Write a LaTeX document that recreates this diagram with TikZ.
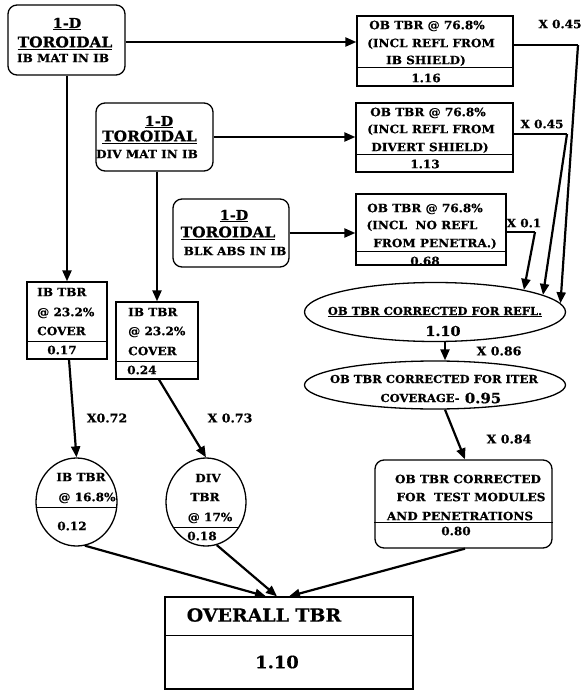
\documentclass[tikz,border=0pt]{standalone}
\usepackage{fontspec}
\newfontfamily\bk[FakeStretch=1.05,FakeBold=0.6]{DejaVu Serif}
\usetikzlibrary{arrows.meta,shapes.geometric}
\begin{document}
\begin{tikzpicture}[x=1pt,y=-1pt,
  rbox/.style={draw, rounded corners=9pt, line width=1.3pt, inner sep=0pt},
  sbox/.style={draw, line width=1.3pt, inner sep=0pt},
  cbox/.style={draw, ellipse, line width=1.3pt, inner sep=0pt},
  conn/.style={line width=2.2pt, -{Triangle[length=11pt,width=9pt]}},
  wire/.style={line width=2.2pt},
  divl/.style={line width=1pt},
  txt/.style={inner sep=0pt, text height={0.729*#1pt}, text depth=0pt, font=\bk\bfseries\fontsize{#1pt}{#1pt}\selectfont},
  ltxt/.style={txt=#1, anchor=west}]
\fill[white] (0,0) rectangle (583,692);
\useasboundingbox (0,0) rectangle (583,692);

% ---- source boxes ----
\node[rbox, minimum width=117pt, minimum height=70pt] (A) at (66.5,40) {};
\node[txt=13.7] (a1) at (67,23) {\underline{1-D}};
\node[txt=14.7] (a2) at (65,42) {\underline{TOROIDAL}};
\node[txt=11.5] (a3) at (63,58) {IB MAT IN IB};

\node[rbox, minimum width=117pt, minimum height=68pt] (B) at (154.5,137) {};
\node[txt=13.7] (b1) at (159,121) {\underline{1-D}};
\node[txt=14.7] (b2) at (149.5,136) {\underline{TOROIDAL}};
\node[txt=11.5] (b3) at (147,154) {DIV MAT IN IB};

\node[rbox, minimum width=116pt, minimum height=68pt] (C) at (231,233) {};
\node[txt=13.7] (c1t) at (234,215) {\underline{1-D}};
\node[txt=14.7] (c2t) at (228,232) {\underline{TOROIDAL}};
\node[txt=11.5] (c3t) at (235,251) {BLK ABS IN IB};

% ---- OB boxes ----
\node[sbox, minimum width=156pt, minimum height=70pt] (ob1) at (435,51) {};
\draw[divl] (ob1.west |- 0,68) -- (ob1.east |- 0,68);
\node[txt=11.5] (o11) at (427,25) {OB TBR @ 76.8\%};
\node[txt=11.5] (o12) at (431,43) {(INCL REFL FROM};
\node[txt=11.5] (o13) at (426,60) {IB SHIELD)};
\node[txt=11.5] (o14) at (426,78) {1.16};

\node[sbox, minimum width=157pt, minimum height=69pt] (ob2) at (434.5,137.5) {};
\draw[divl] (ob2.west |- 0,155) -- (ob2.east |- 0,155);
\node[txt=11.5] (o21) at (428,112) {OB TBR @ 76.8\%};
\node[txt=11.5] (o22) at (431,129) {(INCL REFL FROM};
\node[txt=11.5] (o23) at (430,147) {DIVERT SHIELD)};
\node[txt=11.5] (o24) at (425,164) {1.13};

\node[sbox, minimum width=150pt, minimum height=71pt] (ob3) at (431,229.5) {};
\draw[divl] (ob3.west |- 0,252) -- (ob3.east |- 0,252);
\node[txt=11.5] (o31) at (425,208) {OB TBR @ 76.8\%};
\node[txt=11.5] (o32) at (422,225) {(INCL~~NO REFL};
\node[txt=11.5] (o33) at (435,243) {FROM PENETRA.)};
\node[txt=11.5] (o34) at (425,261) {0.68};

\node[txt=11.5] (x1) at (560,24) {X 0.45};
\node[txt=11.5] (x2) at (542,124) {X 0.45};
\node[txt=11.5] (x3) at (524,223) {X 0.1};

% ---- ellipses ----
\node[cbox, minimum width=261pt, minimum height=59pt] (e1) at (435,312) {};
\node[txt=11] (e1a) at (435,311) {\underline{OB TBR CORRECTED FOR REFL.}};
\node[txt=13.7] (e1b) at (443,331) {1.10};

\node[cbox, minimum width=261pt, minimum height=48pt] (e2) at (435,385) {};
\node[txt=11] (e2a) at (434,379) {OB TBR CORRECTED FOR ITER};
\node[txt=11] (e2b) at (420,398) {COVERAGE-};
\node[txt=14.2] (e2c) at (483,398) {0.95};

\node[txt=12] (x4) at (499,351) {X 0.86};
\node[txt=12] (x5) at (509,439) {X 0.84};

\node[rbox, minimum width=177pt, minimum height=88pt] (ob4) at (463.5,504) {};
\draw[divl] (ob4.west |- 0,522) -- (ob4.east |- 0,522);
\node[txt=11.5] (o41) at (468,479) {OB TBR CORRECTED};
\node[txt=11.5] (o42) at (471,497) {FOR~~TEST MODULES};
\node[txt=11.5] (o43) at (460,516) {\underline{AND PENETRATIONS}};
\node[txt=11.5] (o44) at (456,531) {0.80};

% ---- IB boxes ----
\node[sbox, minimum width=80pt, minimum height=77pt] (ib1) at (67,320.5) {};
\draw[divl] (ib1.west |- 0,341) -- (ib1.east |- 0,341);
\node[ltxt=11.5] (i11) at (37,292) {IB TBR};
\node[ltxt=11.5] (i12) at (37,312) {@ 23.2\%};
\node[ltxt=11.5] (i13) at (37,331) {COVER};
\node[txt=11.5] (i14) at (62,350) {0.17};

\node[sbox, minimum width=82pt, minimum height=77pt] (ib2) at (157,340.5) {};
\draw[divl] (ib2.west |- 0,361) -- (ib2.east |- 0,361);
\node[ltxt=11.5] (i21) at (128,312) {IB TBR};
\node[ltxt=11.5] (i22) at (128,331) {@ 23.2\%};
\node[ltxt=11.5] (i23) at (128,351) {COVER};
\node[ltxt=11.5] (i24) at (127,370) {0.24};

\node[txt=12] (x6) at (107,418) {X0.72};
\node[txt=12] (x7) at (230,418) {X 0.73};

% ---- circles ----
\node[cbox, minimum width=81pt, minimum height=88pt] (c1) at (76.5,502) {};
\draw[divl] (35.8,507) -- (117.2,507);
\node[txt=11.5] (k11) at (81,477) {IB TBR};
\node[txt=11.5] (k12) at (87,497) {@ 16.8\%};
\node[txt=11.5] (k13) at (72,526) {0.12};

\node[cbox, minimum width=80pt, minimum height=88pt] (c2) at (206,502) {};
\draw[divl] (173.1,527) -- (238.9,527);
\node[txt=11.5] (k21) at (208,478) {DIV};
\node[txt=11.5] (k22) at (205,497) {TBR};
\node[txt=11.5] (k23) at (210,517) {@ 17\%};
\node[txt=11.5] (k24) at (202,536) {0.18};

% ---- overall ----
\node[sbox, minimum width=248pt, minimum height=92pt] (ov) at (289,643) {};
\draw[divl] (ov.west |- 0,635) -- (ov.east |- 0,635);
\node[txt=18] (ov1) at (264,615) {OVERALL TBR};
\node[txt=17] (ov2) at (277,662) {1.10};

% ---- connectors ----
\draw[conn] (A.east |- 0,42) -- (ob1.west |- 0,42);
\draw[conn] (B.east |- 0,137) -- (ob2.west |- 0,137);
\draw[conn] (C.east |- 0,233) -- (ob3.west |- 0,233);
\draw[conn] (A.south -| 67,0) -- (ib1.north -| 67,0);
\draw[conn] (B.south -| 157,0) -- (ib2.north -| 157,0);

\coordinate (k1) at (578,45);
\coordinate (k2) at (567,134);
\coordinate (k3) at (535,232);
\draw[wire] (ob1.east |- 0,45) -- (k1);
\draw[conn] (k1) -- (e1.4.7);
\draw[wire] (ob2.east |- 0,134) -- (k2);
\draw[conn] (k2) -- (e1.9.9);
\draw[wire] (ob3.east |- 0,232) -- (k3);
\draw[conn] (k3) -- (e1.14.5);

\draw[conn] (e1.south -| 445,0) -- (e2.north -| 445,0);
\draw[conn] (e2.south -| 445,0) -- (ob4.north -| 465,0);

\draw[conn] (ib1.south -| 69,0) -- (c1.north);
\draw[conn] (ib2.south -| 159,0) -- (c2.north);

\draw[conn] (c1.-79) -- (ov.north -| 266,0);
\draw[conn] (c2.-76) -- (ov.north -| 277,0);
\draw[conn] (ob4.south -| 465,0) -- (ov.north -| 289,0);
\end{tikzpicture}
\end{document}
